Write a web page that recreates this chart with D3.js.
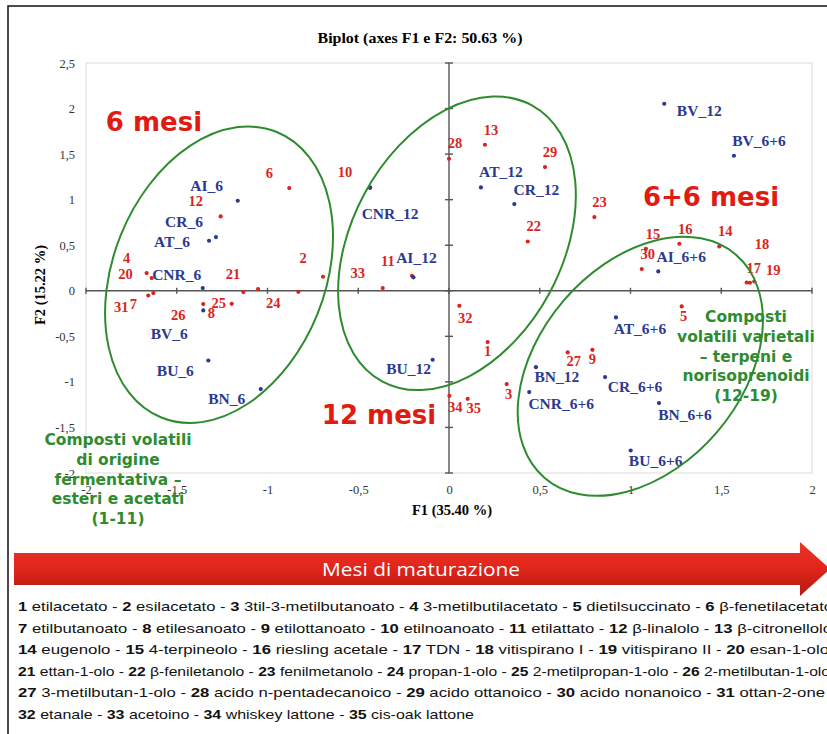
<!DOCTYPE html>
<html>
<head>
<meta charset="utf-8">
<script src="https://cdn.jsdelivr.net/npm/d3@7/dist/d3.min.js"></script>
<style>
body { margin: 0; background: #fff; }
svg { display: block; }
</style>
</head>
<body>
<svg id="chart" width="827" height="734"></svg>
<script>
// variables (red) - compound numbers with F1 / F2 loadings
const varNames = ["1","2","3","4","5","6","7","8","9","10","11","12","13","14","15","16","17","18",
    "19","20","21","22","23","24","25","26","27","28","29","30","31","32","33","34","35"];
const varF1 = [0.213, -0.694, 0.318, -1.638, 1.282, -0.880, -1.629, -1.133, 0.790, -0.435, -0.204, -1.258,
    0.198, 1.489, 1.085, 1.269, 1.640, 1.658, 1.682, -1.666, -1.052, 0.434, 0.801, -0.830, -1.197,
    -1.354, 0.654, 0.000, 0.529, 1.062, -1.657, 0.057, -0.365, 0.002, 0.103];
const varF2 = [-0.563, 0.154, -1.024, 0.139, -0.172, 1.127, -0.025, -0.014, -0.648, 1.134, 0.165, 0.816,
    1.603, 0.486, 0.461, 0.516, 0.091, 0.088, 0.102, 0.194, 0.019, 0.541, 0.809, -0.011, -0.143,
    -0.146, -0.677, 1.449, 1.358, 0.238, -0.052, -0.165, 0.030, -1.153, -1.186];

// observations (blue) - samples
const obsNames = ["AI_6","CR_6","AT_6","CNR_6","BV_6","BU_6","BN_6",
    "AI_12","CNR_12","AT_12","CR_12","BV_12","BU_12","BN_12",
    "AI_6+6","AT_6+6","CR_6+6","CNR_6+6","BN_6+6","BU_6+6","BV_6+6"];
const obsF1 = [-1.164, -1.284, -1.322, -1.357, -1.354, -1.326, -1.037,
    -0.196, -0.435, 0.176, 0.360, 1.186, -0.090, 0.479,
    1.153, 0.920, 0.860, 0.442, 1.157, 1.001, 1.570];
const obsF2 = [0.988, 0.589, 0.549, 0.030, -0.216, -0.765, -1.079,
    0.148, 1.130, 1.134, 0.952, 2.053, -0.757, -0.838,
    0.212, -0.293, -0.947, -1.112, -1.233, -1.753, 1.482];

const xTicks = [-2, -1.5, -1, -0.5, 0, 0.5, 1, 1.5, 2];
const yTicks = [-2, -1.5, -1, -0.5, 0, 0.5, 1, 1.5, 2, 2.5];

const compounds = ["etilacetato", "esilacetato", "3til-3-metilbutanoato", "3-metilbutilacetato",
    "dietilsuccinato", "β-fenetilacetato", "etilbutanoato", "etilesanoato", "etilottanoato",
    "etilnoanoato", "etilattato", "β-linalolo", "β-citronellolo", "eugenolo", "4-terpineolo",
    "riesling acetale", "TDN", "vitispirano I", "vitispirano II", "esan-1-olo", "ettan-1-olo",
    "β-feniletanolo", "fenilmetanolo", "propan-1-olo", "2-metilpropan-1-olo", "2-metilbutan-1-olo",
    "3-metilbutan-1-olo", "acido n-pentadecanoico", "acido ottanoico", "acido nonanoico",
    "ottan-2-one", "etanale", "acetoino", "whiskey lattone", "cis-oak lattone"];
// last compound number on each legend line
const legendBreaks = [6, 13, 20, 26, 31, 35];

// where each point label sits relative to its dot (px)
const labelShift = {
    "1": [0, 9], "2": [-20, -19], "3": [2, 10], "4": [-25, -20], "5": [2, 10], "6": [-20, -15],
    "7": [-20, 11], "8": [-32, 21], "9": [0, 9], "10": [-25, -15], "11": [-24, -15], "12": [-25, -15],
    "13": [6, -15], "14": [6, -15], "15": [7, -15], "16": [6, -15], "17": [7, -14], "18": [12, -39],
    "19": [19, -11], "20": [-21, 1], "21": [-25, -15], "22": [6, -15], "23": [5, -15], "24": [-25, 11],
    "25": [-13, -1], "26": [-25, 11], "27": [6, 9], "28": [6, -16], "29": [5, -15], "30": [6, -15],
    "31": [-27, 11], "32": [6, 12], "33": [-25, -15], "34": [6, 11], "35": [6, 9],
    "AI_6": [-31, -15], "CR_6": [-32, -16], "AT_6": [-37, 1], "CNR_6": [-26, -14], "BV_6": [-34, 23],
    "BU_6": [-33, 10], "BN_6": [-34, 9], "AI_12": [3, -20], "CNR_12": [20, 26], "AT_12": [20, -16],
    "CR_12": [22, -15], "BV_12": [35, 7], "BU_12": [-24, 9], "BN_12": [21, 9], "AI_6+6": [23, -15],
    "AT_6+6": [24, 11], "CR_6+6": [30, 9], "CNR_6+6": [32, 11], "BN_6+6": [26, 11], "BU_6+6": [25, 10],
    "BV_6+6": [25, -15]
};

const plot = { left: 86, right: 812, top: 63, bottom: 473 };
const red = "#d8261d";
const blue = "#2b3990";
const green = "#2f8b30";
const serif = "'Liberation Serif', 'Times New Roman', serif";

const svg = d3.select("#chart");
const x = d3.scaleLinear([-2, 2], [plot.left, plot.right]);
const y = d3.scaleLinear([-2, 2.5], [plot.bottom, plot.top]);
const fmt = d => String(d).replace(".", ",");

makeFrame();
makeAxes();
makePoints();
makeEllipses();
makeNotes();
makeArrow();
makeLegend();

function makeFrame() {
    svg.append("rect")
        .attr("x", 8).attr("y", 6)
        .attr("width", 840).attr("height", 740)
        .attr("fill", "white")
        .attr("stroke", "#111").attr("stroke-width", 1.5);

    svg.append("rect")
        .attr("x", plot.left).attr("y", plot.top)
        .attr("width", plot.right - plot.left).attr("height", plot.bottom - plot.top)
        .attr("fill", "white")
        .attr("stroke", "#dcdcdc").attr("stroke-width", 1);

    svg.append("text")
        .attr("x", 420).attr("y", 43)
        .attr("text-anchor", "middle")
        .attr("textLength", 205).attr("lengthAdjust", "spacingAndGlyphs")
        .style("font-family", serif).style("font-weight", "bold").style("font-size", "15px")
        .text("Biplot (axes F1 e F2: 50.63 %)");
}

function makeAxes() {
    // tick labels on the plot edges
    let yaxis = d3.axisLeft(y).tickValues(yTicks).tickFormat(fmt).tickSize(0).tickPadding(11);
    let xaxis = d3.axisBottom(x).tickValues(xTicks).tickFormat(fmt).tickSize(0).tickPadding(12);

    let gy = svg.append("g").attr("transform", `translate(${plot.left},0)`).call(yaxis);
    let gx = svg.append("g").attr("transform", `translate(0,${plot.bottom})`).call(xaxis);
    [gy, gx].forEach(g => {
        g.select(".domain").remove();
        g.selectAll("text")
            .style("font-family", serif).style("font-size", "12.5px").attr("fill", "#333");
    });

    // zero lines through the middle
    let zero = svg.append("g").attr("stroke", "#555").attr("stroke-width", 1.4);
    zero.append("line")
        .attr("x1", x(-2)).attr("x2", x(2)).attr("y1", y(0)).attr("y2", y(0));
    zero.append("line")
        .attr("x1", x(0)).attr("x2", x(0)).attr("y1", y(-2)).attr("y2", y(2.5));
    zero.selectAll(".ytick").data(yTicks).enter()
        .append("line")
        .attr("x1", x(0) - 4).attr("x2", x(0) + 4)
        .attr("y1", d => y(d)).attr("y2", d => y(d));
    zero.selectAll(".xtick").data(xTicks).enter()
        .append("line")
        .attr("x1", d => x(d)).attr("x2", d => x(d))
        .attr("y1", y(0) - 3).attr("y2", y(0) + 3);

    svg.append("text")
        .attr("x", 452).attr("y", 515)
        .attr("text-anchor", "middle")
        .style("font-family", serif).style("font-weight", "bold").style("font-size", "14.5px")
        .text("F1 (35.40 %)");

    svg.append("text")
        .attr("transform", "translate(45,285) rotate(-90)")
        .attr("text-anchor", "middle")
        .style("font-family", serif).style("font-weight", "bold").style("font-size", "14.5px")
        .text("F2 (15.22 %)");
}

function makePoints() {
    let vars = varNames.map((n, i) => ({ name: n, f1: varF1[i], f2: varF2[i] }));
    let obs = obsNames.map((n, i) => ({ name: n, f1: obsF1[i], f2: obsF2[i] }));

    [[vars, red, "14.5px"], [obs, blue, "15.5px"]].forEach(([set, col, size]) => {
        let g = svg.append("g");
        g.selectAll("circle").data(set).enter()
            .append("circle")
            .attr("cx", d => x(d.f1))
            .attr("cy", d => y(d.f2))
            .attr("r", 2.1)
            .attr("fill", col);
        g.selectAll("text").data(set).enter()
            .append("text")
            .attr("x", d => x(d.f1) + labelShift[d.name][0])
            .attr("y", d => y(d.f2) + labelShift[d.name][1])
            .attr("text-anchor", "middle")
            .attr("dominant-baseline", "central")
            .attr("fill", col)
            .style("font-family", serif).style("font-weight", "bold").style("font-size", size)
            .text(d => d.name);
    });
}

function makeEllipses() {
    // groups circled by hand: centre in F1/F2 units, half-axes in px, tilt in degrees
    let groups = [
        { f1: -1.267, f2: 0.176, rx: 106, ry: 154, tilt: 22 },
        { f1: 0.044, f2: 0.521, rx: 105, ry: 157, tilt: 28.5 },
        { f1: 1.054, f2: -0.829, rx: 101, ry: 147, tilt: 40.6 }
    ];
    svg.append("g").selectAll("ellipse").data(groups).enter()
        .append("ellipse")
        .attr("transform", d => `translate(${x(d.f1)},${y(d.f2)}) rotate(${d.tilt})`)
        .attr("rx", d => d.rx)
        .attr("ry", d => d.ry)
        .attr("fill", "none")
        .attr("stroke", green)
        .attr("stroke-width", 2);
}

function makeNotes() {
    let big = [
        { text: "6 mesi", x: 154, y: 122 },
        { text: "12 mesi", x: 379, y: 415 },
        { text: "6+6 mesi", x: 711, y: 197 }
    ];
    svg.append("g").selectAll("text").data(big).enter()
        .append("text")
        .attr("x", d => d.x).attr("y", d => d.y)
        .attr("text-anchor", "middle").attr("dominant-baseline", "central")
        .attr("fill", "#e01b12")
        .style("font-family", "'DejaVu Sans', Verdana, sans-serif")
        .style("font-weight", "bold").style("font-size", "26px")
        .text(d => d.text);

    let notes = [
        { lines: ["Composti volatili", "di origine", "fermentativa –", "esteri e acetati", "(1-11)"], x: 118, y: 440 },
        { lines: ["Composti", "volatili varietali", "– terpeni e", "norisoprenoidi", "(12-19)"], x: 746, y: 317 }
    ];
    notes.forEach(n => {
        svg.append("g").selectAll("text").data(n.lines).enter()
            .append("text")
            .attr("x", n.x)
            .attr("y", (d, i) => n.y + i * 19.8)
            .attr("text-anchor", "middle").attr("dominant-baseline", "central")
            .attr("fill", green)
            .style("font-family", "'DejaVu Sans', Verdana, sans-serif")
            .style("font-weight", "bold").style("font-size", "15.5px")
            .text(d => d);
    });
}

function makeArrow() {
    let defs = svg.append("defs");
    let grad = defs.append("linearGradient")
        .attr("id", "arrowfill").attr("x1", 0).attr("x2", 0).attr("y1", 0).attr("y2", 1);
    grad.append("stop").attr("offset", "0%").attr("stop-color", "#e8342a");
    grad.append("stop").attr("offset", "45%").attr("stop-color", "#e3261b");
    grad.append("stop").attr("offset", "100%").attr("stop-color", "#b51a10");

    svg.append("path")
        .attr("d", "M14,553 L800,553 L800,542 L830,569 L800,596 L800,585 L14,585 Z")
        .attr("fill", "url(#arrowfill)");

    svg.append("text")
        .attr("x", 421).attr("y", 569)
        .attr("text-anchor", "middle").attr("dominant-baseline", "central")
        .attr("fill", "white")
        .attr("textLength", 198).attr("lengthAdjust", "spacingAndGlyphs")
        .style("font-family", "'Open Sans', 'Noto Sans', sans-serif").style("font-size", "19px")
        .text("Mesi di maturazione");
}

function makeLegend() {
    let widths = [815, 814, 811, 812, 807, 456];
    let start = 0;
    legendBreaks.forEach((end, li) => {
        let t = svg.append("text")
            .attr("x", 18).attr("y", 611 + li * 21.6)
            .attr("textLength", widths[li]).attr("lengthAdjust", "spacingAndGlyphs")
            .style("font-family", "'Liberation Sans', Arial, sans-serif").style("font-size", "13.5px")
            .attr("fill", "#111");
        for (let k = start; k < end; k++) {
            t.append("tspan").style("font-weight", "bold").text(k + 1);
            t.append("tspan").text(" " + compounds[k] + (k < end - 1 ? " - " : ""));
        }
        start = end;
    });
}
</script>
</body>
</html>
